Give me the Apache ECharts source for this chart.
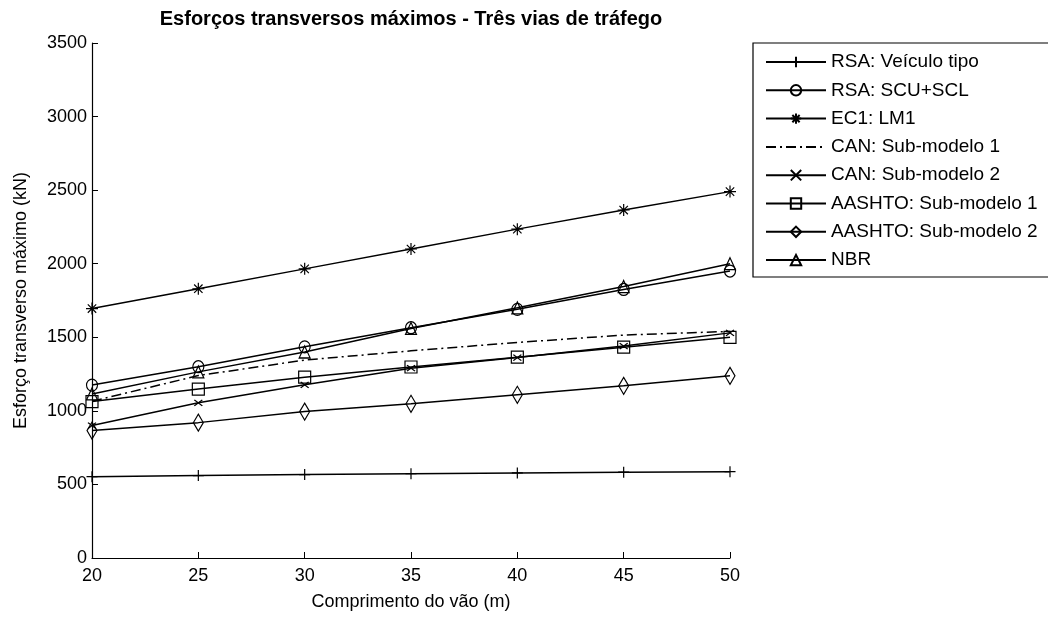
<!DOCTYPE html>
<html>
<head>
<meta charset="utf-8">
<script src="https://cdn.jsdelivr.net/npm/echarts@6/dist/echarts.min.js"></script>
<style>
  html, body { margin: 0; padding: 0; background: #fff; }
  #chart { width: 1048px; height: 617px; }
</style>
</head>
<body>
<div id="chart"></div>
<script>
// Span length (m)
const spans = [20, 25, 30, 35, 40, 45, 50];
const yTicks = [0, 500, 1000, 1500, 2000, 2500, 3000, 3500];

// Maximum transverse force (kN) for each load model
const rsaVeiculoTipo = [553, 560, 567, 573, 578, 583, 587];
const rsaScuScl      = [1175, 1300, 1435, 1565, 1690, 1825, 1950];
const ec1Lm1         = [1695, 1830, 1965, 2100, 2235, 2365, 2490];
const canSub1        = [1065, 1240, 1345, 1408, 1465, 1515, 1540];
const canSub2        = [900, 1055, 1177, 1290, 1362, 1440, 1530];
const aashtoSub1     = [1063, 1148, 1229, 1298, 1365, 1433, 1500];
const aashtoSub2     = [866, 920, 995, 1048, 1109, 1170, 1238];
const nbr            = [1115, 1265, 1400, 1560, 1700, 1845, 2000];

const seriesNames = [
  'RSA: Veículo tipo', 'RSA: SCU+SCL', 'EC1: LM1', 'CAN: Sub-modelo 1',
  'CAN: Sub-modelo 2', 'AASHTO: Sub-modelo 1', 'AASHTO: Sub-modelo 2', 'NBR'
];
const seriesValues = [rsaVeiculoTipo, rsaScuScl, ec1Lm1, canSub1, canSub2, aashtoSub1, aashtoSub2, nbr];

const FONT = '"Liberation Sans", Arial, sans-serif';

// Marker shapes (stroked outlines, no fill)
const markers = [
  { symbol: 'path://M5,0L5,10M0,5L10,5', size: [11, 11] },
  { symbol: 'circle', size: [11, 12] },
  { symbol: 'path://M5,0L5,10M0,5L10,5M1.5,1.5L8.5,8.5M1.5,8.5L8.5,1.5', size: [12, 12] },
  { symbol: 'none', size: 0 },
  { symbol: 'path://M0,0L10,10M0,10L10,0', size: [8, 6] },
  { symbol: 'rect', size: [12, 12] },
  { symbol: 'diamond', size: [10, 17] },
  { symbol: 'triangle', size: [11, 12] }
];

const series = seriesNames.map((name, i) => ({
  name,
  type: 'line',
  data: spans.map((x, j) => [x, seriesValues[i][j]]),
  symbol: markers[i].symbol,
  symbolSize: markers[i].size,
  showSymbol: markers[i].symbol !== 'none',
  animation: false,
  lineStyle: {
    color: '#000',
    width: 1.5,
    type: i === 3 ? [10, 4, 2, 4] : 'solid'
  },
  itemStyle: {
    color: 'rgba(0,0,0,0)',
    borderColor: '#000',
    borderWidth: 1.2
  },
  emphasis: { disabled: true },
  z: 2 + i
}));

// Legend entries; the dash-dot series has a plain line icon without a marker
const legendData = seriesNames.map((name, i) =>
  markers[i].symbol === 'none'
    ? { name, itemStyle: { opacity: 0, borderWidth: 0 } }
    : { name }
);

const chart = echarts.init(document.getElementById('chart'), null, { renderer: 'canvas' });

chart.setOption({
  backgroundColor: '#fff',
  animation: false,
  title: {
    text: 'Esforços transversos máximos - Três vias de tráfego',
    left: 406,
    textAlign: 'center',
    top: 4,
    textStyle: { fontFamily: FONT, fontSize: 20, fontWeight: 'bold', color: '#000' }
  },
  grid: { left: 92, right: 318, top: 43, bottom: 59, containLabel: false },
  xAxis: {
    type: 'value',
    min: 20, max: 50, interval: 5,
    name: 'Comprimento do vão (m)',
    nameLocation: 'middle',
    nameGap: 35,
    nameTextStyle: { fontFamily: FONT, fontSize: 18, color: '#000' },
    axisLine: { lineStyle: { color: '#000', width: 1.2 } },
    axisTick: { inside: true, length: 6, lineStyle: { color: '#000' } },
    axisLabel: { fontFamily: FONT, fontSize: 18, color: '#000', margin: 9 },
    splitLine: { show: false }
  },
  yAxis: {
    type: 'value',
    min: yTicks[0], max: yTicks[yTicks.length - 1], interval: 500,
    name: 'Esforço transverso máximo (kN)',
    nameLocation: 'middle',
    nameGap: 62,
    nameRotate: 90,
    nameTextStyle: { fontFamily: FONT, fontSize: 18, color: '#000' },
    axisLine: { show: true, lineStyle: { color: '#000', width: 1.2 } },
    axisTick: { show: true, inside: true, length: 6, lineStyle: { color: '#000' } },
    axisLabel: {
      fontFamily: FONT, fontSize: 18, color: '#000', margin: 5,
      formatter: v => String(v)
    },
    splitLine: { show: false }
  },
  legend: {
    orient: 'vertical',
    left: 765,
    top: 52,
    padding: 0,
    itemWidth: 60,
    itemHeight: 13,
    itemGap: 8.3,
    selectedMode: false,
    data: legendData,
    textStyle: { fontFamily: FONT, fontSize: 19, color: '#000', lineHeight: 20 }
  },
  graphic: [{
    type: 'rect',
    shape: { x: 753, y: 43, width: 310, height: 234 },
    style: { fill: 'none', stroke: '#000', lineWidth: 1.2 },
    z: 1
  }],
  series
});
</script>
</body>
</html>
